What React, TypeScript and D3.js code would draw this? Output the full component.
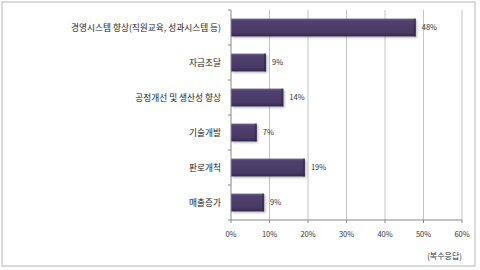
import * as d3 from 'd3';

const categories = [
  '경영시스템 향상(직원교육, 성과시스템 등)',
  '자금조달',
  '공정개선 및 생산성 향상',
  '기술개발',
  '판로개척',
  '매출증가',
];
const values = [48, 9.1, 13.6, 6.7, 19.2, 8.6];
const xTicks = [0, 10, 20, 30, 40, 50, 60];
const note = '(복수응답)';

const W = 480;
const H = 270;
const margin = { top: 10, right: 18, bottom: 50, left: 231 };
const FONT = '"Noto Sans CJK KR", "Noto Sans", sans-serif';

export default function App() {
  const x = d3.scaleLinear().domain([0, 60]).range([margin.left, W - margin.right]);
  const y = d3.scaleBand<string>()
    .domain(categories)
    .range([margin.top, H - margin.bottom])
    .paddingInner(0.49)
    .paddingOuter(0.245);
  const bandStep = y.step();
  const boundaries = d3.range(categories.length + 1).map(i => margin.top + i * bandStep);
  const fmt = (v: number) => `${Math.round(v)}%`;
  const bottom = H - margin.bottom;

  return (
    <svg width={W} height={H} style={{ position: 'absolute', left: 0, top: 0, fontFamily: FONT }}>
      <defs>
        <linearGradient id="barFill" x1="0" y1="0" x2="0" y2="1">
          <stop offset="0" stopColor="#75659a" />
          <stop offset="0.12" stopColor="#51416e" />
          <stop offset="0.8" stopColor="#473866" />
          <stop offset="1" stopColor="#33274a" />
        </linearGradient>
        <filter id="shadow" x="-10%" y="-30%" width="130%" height="180%">
          <feGaussianBlur stdDeviation="1" />
        </filter>
      </defs>
      <rect x={0} y={0} width={W} height={H} fill="#fff" />
      <rect x={2} y={2} width={473} height={264} fill="#fff" stroke="#b8b8b8" strokeWidth={1} />

      {/* gridlines */}
      {xTicks.slice(1).map(t => (
        <line key={t} x1={x(t)} x2={x(t)} y1={margin.top} y2={bottom} stroke="#c4c4c4" strokeWidth={1} />
      ))}

      {/* bars */}
      {categories.map((c, i) => {
        const y0 = y(c)!;
        const bw = x(values[i]) - x(0);
        return (
          <g key={c}>
            <rect x={x(0) + 1.5} y={y0 + 1.5} width={bw} height={y.bandwidth()} fill="#777" opacity={0.45} filter="url(#shadow)" />
            <rect x={x(0)} y={y0} width={bw} height={y.bandwidth()} fill="url(#barFill)" />
            <rect x={x(0) + bw - 2} y={y0} width={2} height={y.bandwidth()} fill="#2e2340" opacity={0.5} />
            <text x={x(values[i]) + 6} y={y0 + y.bandwidth() / 2} dy="0.35em" fontSize={7.5} fill="#333">
              {fmt(values[i])}
            </text>
            <text x={221} y={y0 + y.bandwidth() / 2} dy="0.35em" textAnchor="end" fontSize={8.7} fill="#222">
              {c}
            </text>
          </g>
        );
      })}

      {/* y axis */}
      <line x1={x(0)} x2={x(0)} y1={margin.top} y2={bottom} stroke="#888" />
      {boundaries.map((b, i) => (
        <line key={i} x1={x(0) - 3} x2={x(0)} y1={b} y2={b} stroke="#888" />
      ))}

      {/* x axis */}
      <line x1={x(0)} x2={x(60)} y1={bottom} y2={bottom} stroke="#888" />
      {xTicks.map(t => (
        <g key={t}>
          <line x1={x(t)} x2={x(t)} y1={bottom} y2={bottom + 3} stroke="#888" />
          <text x={x(t)} y={bottom + 14} dy="0.35em" textAnchor="middle" fontSize={7.5} fill="#333">
            {`${t}%`}
          </text>
        </g>
      ))}

      <text x={x(60)} y={256.5} dy="0.35em" textAnchor="end" fontSize={8} fill="#333">
        {note}
      </text>
    </svg>
  );
}
